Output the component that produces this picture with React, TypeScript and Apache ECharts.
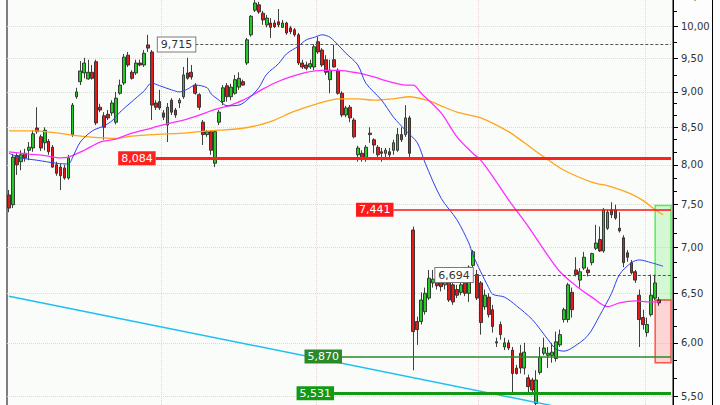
import React, { useEffect, useRef } from 'react';
import * as echarts from 'echarts';

// [open, close, low, high] per trading day
const candles: [number, number, number, number][] = [
  [7.62, 7.46, 7.41, 7.68], [7.50, 8.10, 7.46, 8.14], [8.12, 8.00, 7.87, 8.15], [8.04, 8.13, 7.93, 8.19],
  [8.15, 8.09, 8.04, 8.21], [8.19, 8.23, 8.06, 8.30], [8.22, 8.41, 8.17, 8.46], [8.49, 8.44, 8.41, 8.78],
  [8.37, 8.22, 8.18, 8.40], [8.29, 8.46, 8.19, 8.50], [8.31, 8.17, 8.13, 8.34], [8.23, 7.97, 7.96, 8.26],
  [8.00, 7.89, 7.86, 8.04], [7.97, 7.86, 7.68, 8.01], [7.96, 7.83, 7.81, 8.00], [7.83, 8.09, 7.81, 8.13],
  [8.40, 8.81, 8.37, 8.84], [8.93, 9.00, 8.90, 9.06], [9.15, 9.31, 9.10, 9.46], [9.28, 9.43, 9.20, 9.51],
  [9.19, 9.29, 9.18, 9.48], [9.29, 9.20, 9.18, 9.40], [9.45, 8.56, 8.53, 9.48], [8.78, 8.74, 8.71, 8.83],
  [8.66, 8.50, 8.33, 8.71], [8.68, 8.63, 8.60, 8.74], [8.70, 8.84, 8.66, 8.88], [8.57, 8.91, 8.54, 9.00],
  [8.98, 9.10, 8.96, 9.18], [9.13, 9.52, 9.10, 9.57], [9.55, 9.40, 9.37, 9.60], [9.29, 9.20, 9.18, 9.32],
  [9.28, 9.43, 9.25, 9.48], [9.43, 9.40, 9.38, 9.48], [9.40, 9.58, 9.37, 9.63], [9.71, 9.66, 9.60, 9.87],
  [9.60, 8.81, 8.60, 9.63], [8.84, 8.78, 8.74, 8.88], [8.86, 8.77, 8.74, 9.03], [8.70, 8.64, 8.60, 8.74],
  [8.53, 8.78, 8.30, 8.84], [8.88, 8.71, 8.67, 8.91], [8.74, 8.67, 8.63, 8.77], [8.84, 8.88, 8.77, 8.91],
  [8.93, 9.25, 8.90, 9.37], [9.28, 9.20, 9.18, 9.51], [9.29, 9.22, 9.18, 9.40], [9.10, 8.98, 8.96, 9.13],
  [8.96, 8.78, 8.74, 8.98], [8.57, 8.40, 8.26, 8.60], [8.40, 8.44, 8.37, 8.46], [8.44, 8.19, 8.13, 8.46],
  [8.02, 8.44, 7.97, 8.46], [8.57, 8.71, 8.53, 8.74], [8.86, 9.06, 8.81, 9.10], [9.09, 8.93, 8.86, 9.13],
  [8.93, 9.07, 8.88, 9.12], [8.98, 9.18, 8.96, 9.25], [9.07, 9.20, 9.03, 9.29], [9.15, 9.10, 9.09, 9.18],
  [9.43, 9.79, 9.40, 9.82], [9.87, 10.17, 9.84, 10.19], [10.27, 10.39, 10.24, 10.44], [10.36, 10.24, 10.21, 10.41],
  [10.22, 10.11, 10.03, 10.26], [10.03, 10.14, 9.99, 10.19], [10.06, 9.99, 9.82, 10.14], [10.06, 10.00, 9.98, 10.11],
  [10.08, 10.03, 9.99, 10.29], [9.99, 10.06, 9.98, 10.11], [10.06, 9.90, 9.87, 10.08], [9.98, 9.92, 9.88, 10.01],
  [9.95, 9.87, 9.84, 9.98], [9.87, 9.43, 9.40, 9.90], [9.43, 9.37, 9.34, 9.48], [9.40, 9.35, 9.32, 9.45],
  [9.37, 9.42, 9.34, 9.48], [9.37, 9.68, 9.32, 9.72], [9.76, 9.60, 9.57, 9.84], [9.63, 9.40, 9.37, 9.66],
  [9.48, 9.29, 9.25, 9.55], [9.18, 9.32, 8.98, 9.48], [9.48, 9.37, 9.36, 9.71], [9.32, 8.98, 8.96, 9.35],
  [8.98, 8.67, 8.64, 9.01], [8.67, 8.77, 8.64, 8.80], [8.78, 8.63, 8.57, 8.81], [8.60, 8.37, 8.35, 8.63],
  [8.13, 8.22, 8.04, 8.25], [8.15, 8.09, 8.04, 8.19], [8.09, 8.23, 8.04, 8.26], [8.42, 8.40, 8.29, 8.50],
  [8.33, 8.26, 8.15, 8.35], [8.23, 8.13, 8.06, 8.26], [8.17, 8.15, 8.04, 8.22], [8.15, 8.19, 8.09, 8.22],
  [8.17, 8.13, 8.06, 8.22], [8.19, 8.29, 8.13, 8.33], [8.19, 8.40, 8.17, 8.49], [8.40, 8.33, 8.30, 8.50],
  [8.40, 8.63, 8.37, 8.81], [8.63, 8.15, 8.10, 8.66], [7.20, 6.11, 5.74, 7.24], [6.21, 6.13, 5.98, 6.26],
  [6.21, 6.43, 6.18, 6.51], [6.31, 6.50, 6.28, 6.56], [6.45, 6.66, 6.43, 6.75], [6.61, 6.65, 6.56, 6.75],
  [6.64, 6.58, 6.54, 6.73], [6.63, 6.57, 6.52, 6.70], [6.59, 6.64, 6.54, 6.72], [6.64, 6.43, 6.41, 6.70],
  [6.59, 6.41, 6.38, 6.67], [6.54, 6.48, 6.45, 6.59], [6.51, 6.59, 6.48, 6.64], [6.64, 6.50, 6.47, 6.70],
  [6.50, 6.78, 6.41, 6.80], [6.80, 6.95, 6.77, 6.97], [6.70, 6.45, 6.43, 6.75], [6.61, 6.20, 6.08, 6.63],
  [6.36, 6.48, 6.33, 6.54], [6.46, 6.28, 6.25, 6.50], [6.33, 6.16, 6.10, 6.38], [6.01, 6.00, 5.96, 6.05],
  [6.18, 6.08, 6.03, 6.21], [5.96, 6.00, 5.93, 6.05], [6.00, 5.95, 5.93, 6.03], [5.93, 5.71, 5.54, 5.96],
  [5.76, 5.71, 5.70, 5.79], [5.90, 5.76, 5.71, 5.98], [5.76, 5.91, 5.70, 6.00], [5.67, 5.59, 5.54, 5.70],
  [5.65, 5.56, 5.53, 5.67], [5.44, 5.65, 5.40, 5.74], [5.72, 5.86, 5.70, 5.96], [5.90, 5.95, 5.88, 6.05],
  [5.88, 5.90, 5.76, 5.96], [5.88, 5.91, 5.81, 6.00], [5.85, 6.01, 5.82, 6.11], [5.98, 6.08, 5.96, 6.13],
  [6.23, 6.33, 6.20, 6.35], [6.23, 6.59, 6.20, 6.61], [6.51, 6.33, 6.25, 6.56], [6.75, 6.70, 6.68, 6.89],
  [6.64, 6.73, 6.56, 6.77], [6.77, 6.89, 6.75, 6.95], [6.75, 6.72, 6.68, 6.78], [6.83, 6.93, 6.80, 6.94],
  [6.99, 7.05, 6.97, 7.26], [7.09, 6.96, 6.95, 7.24], [6.96, 7.44, 6.94, 7.46], [7.22, 7.41, 7.20, 7.44],
  [7.44, 7.38, 7.34, 7.53], [7.44, 7.34, 7.32, 7.50], [7.22, 7.19, 7.17, 7.41], [7.11, 6.83, 6.78, 7.14],
  [6.94, 6.89, 6.84, 6.97], [6.83, 6.72, 6.70, 6.86], [6.73, 6.64, 6.61, 6.75], [6.48, 6.23, 5.96, 6.54],
  [6.25, 6.18, 6.13, 6.33], [6.10, 6.18, 6.06, 6.25], [6.28, 6.48, 6.26, 6.70], [6.45, 6.61, 6.43, 6.70],
  [6.43, 6.40, 6.37, 6.46],
];

const TOTAL_SLOTS = 168;
const dayLabels = Array.from({ length: TOTAL_SLOTS }, (_, i) => String(i + 1));
const periodStarts = [39, 78, 119, 161];

// [day index, price]
const blueMA: [number, number][] = [
  [0, 8.15], [3, 8.09], [7, 8.06], [12, 8.02], [15, 8.01], [16, 8.09], [18, 8.30], [21, 8.45], [24, 8.52],
  [26, 8.59], [28, 8.71], [31, 8.86], [34, 9.01], [36, 9.13], [38, 9.09], [41, 9.03], [43, 9.00], [45, 9.04],
  [47, 9.10], [50, 9.06], [51, 8.97], [53, 8.88], [55, 8.80], [58, 8.81], [60, 8.88], [63, 9.06], [65, 9.26],
  [68, 9.42], [70, 9.57], [73, 9.69], [75, 9.79], [77, 9.83], [79, 9.87], [81, 9.83], [83, 9.71], [85, 9.58],
  [88, 9.40], [90, 9.13], [94, 8.88], [97, 8.64], [100, 8.46], [103, 8.29], [105, 8.02], [109, 7.58],
  [113, 7.32], [116, 7.05], [117, 6.92], [119, 6.73], [121, 6.56], [122, 6.49], [125, 6.46], [128, 6.37],
  [132, 6.23], [136, 6.03], [138, 5.94], [140, 5.92], [142, 5.95], [146, 6.07], [149, 6.27], [152, 6.50],
  [154, 6.70], [157, 6.83], [159, 6.86], [162, 6.83], [165, 6.79],
];
const magentaMA: [number, number][] = [
  [0, 8.17], [5, 8.14], [9, 8.12], [13, 8.09], [15, 8.10], [19, 8.19], [23, 8.30], [27, 8.34], [31, 8.42],
  [36, 8.49], [40, 8.55], [44, 8.60], [48, 8.67], [52, 8.75], [56, 8.81], [59, 8.88], [61, 8.94], [64, 9.04],
  [67, 9.13], [71, 9.22], [75, 9.29], [79, 9.32], [83, 9.32], [88, 9.28], [92, 9.22], [96, 9.15], [100, 9.10],
  [102, 9.10], [104, 8.98], [109, 8.70], [113, 8.37], [117, 8.15], [119, 8.06], [123, 7.78], [126, 7.56],
  [131, 7.24], [135, 6.97], [139, 6.73], [143, 6.58], [147, 6.46], [151, 6.36], [154, 6.40], [158, 6.42],
  [161, 6.41], [164, 6.41],
];
const orangeMA: [number, number][] = [
  [0, 8.45], [6, 8.45], [11, 8.43], [15, 8.40], [20, 8.37], [27, 8.35], [31, 8.38], [36, 8.40], [40, 8.41],
  [44, 8.42], [48, 8.44], [53, 8.46], [58, 8.48], [63, 8.53], [67, 8.60], [71, 8.70], [75, 8.78], [79, 8.85],
  [83, 8.90], [88, 8.90], [92, 8.88], [97, 8.90], [101, 8.93], [106, 8.87], [109, 8.80], [113, 8.71],
  [119, 8.63], [126, 8.44], [130, 8.29], [135, 8.10], [140, 7.93], [147, 7.78], [152, 7.72], [157, 7.63],
  [160, 7.55], [163, 7.44], [165, 7.38],
];
const trendLine: [number, number][] = [[0, 6.47], [150, 5.33]];

const levelValues = [9.715, 8.084, 7.441, 6.694, 5.87, 5.531];
const levelLabels = ['9,715', '8,084', '7,441', '6,694', '5,870', '5,531'];
const levelStartDay = [47, 37, 97, 117, 84, 82];

const targetBox = { top: 7.49, mid: 6.43, bottom: 5.81 };

const majorTicks = [5.5, 6, 6.5, 7, 7.5, 8, 8.5, 9, 9.5, 10, 10.5];
const minorTicks = [5.667, 5.833, 6.167, 6.333, 6.667, 6.833, 7.167, 7.333, 7.667, 7.833, 8.167, 8.333,
  8.667, 8.833, 9.25, 9.75, 10.25];

const LOG = (p: number) => Math.log10(p);
const Y_MIN = 0.720491;
const Y_MAX = 1.032772;
const FONT = 'DejaVu Sans';
const OVERHANG = 20;

const levelStyles: any[] = [
  { line: { color: '#555', width: 1, type: [3, 2] }, label: { backgroundColor: '#ffffff', borderColor: '#7a7a7a', borderWidth: 1, color: '#333' } },
  { line: { color: '#ff2020', width: 3, type: 'solid' }, label: { backgroundColor: '#ff2020', color: '#fff' } },
  { line: { color: '#ff1010', width: 1.5, type: 'solid' }, label: { backgroundColor: '#ff1a1a', color: '#fff' } },
  { line: { color: '#555', width: 1, type: [3, 2] }, label: { backgroundColor: '#ffffff', borderColor: '#7a7a7a', borderWidth: 1, color: '#333' } },
  { line: { color: '#2a8a2a', width: 1.5, type: 'solid' }, label: { backgroundColor: '#2a8a2a', color: '#fff' } },
  { line: { color: '#139a13', width: 3, type: 'solid' }, label: { backgroundColor: '#139a13', color: '#fff' } },
];

export default function App() {
  const ref = useRef<HTMLDivElement>(null);
  useEffect(() => {
    if (!ref.current) return;
    const chart = echarts.init(ref.current, undefined, { renderer: 'svg' });
    const fmt = (v: number) => Math.pow(10, v).toFixed(2).replace('.', ',');
    const option: any = {
      animation: false,
      backgroundColor: '#fcfdfc',
      grid: {
        left: 7, right: 47, top: 0, bottom: 0, show: true,
        backgroundColor: '#fafcfa', borderColor: '#000', borderWidth: 1,
      },
      xAxis: {
        type: 'category', data: dayLabels, boundaryGap: true,
        axisLine: { show: false }, axisTick: { show: false }, axisLabel: { show: false },
        splitLine: {
          show: true,
          interval: (i: number) => periodStarts.includes(i),
          lineStyle: { color: '#e6d4d4', type: 'dotted', width: 1 },
        },
      },
      yAxis: [
        {
          type: 'value', position: 'right', min: Y_MIN, max: Y_MAX,
          axisLine: { show: true, lineStyle: { color: '#000', width: 1 } },
          axisTick: { show: true, customValues: majorTicks.map(LOG), length: 5, lineStyle: { color: '#000' } },
          axisLabel: {
            customValues: majorTicks.map(LOG), formatter: fmt, color: '#333',
            fontSize: 10, fontFamily: FONT, margin: 8,
          },
          splitLine: { show: true, lineStyle: { color: '#e6d4d4', type: 'dotted', width: 1 } },
        },
        {
          type: 'value', position: 'right', min: Y_MIN, max: Y_MAX,
          axisLine: { show: false },
          axisTick: { show: true, customValues: minorTicks.map(LOG), length: 4, lineStyle: { color: '#000' } },
          axisLabel: { show: false },
          splitLine: { show: false },
        },
      ],
      series: [
        {
          type: 'candlestick',
          data: candles.map(([o, c, l, h]) => [LOG(o), LOG(c), LOG(l), LOG(h)]),
          barWidth: 3.2,
          z: 2,
          itemStyle: {
            color: '#22cc22', color0: '#e41a1a',
            borderColor: '#2a2a2a', borderColor0: '#2a2a2a', borderWidth: 0.9,
          },
          markArea: {
            silent: true,
            data: [
              [
                { coord: [163, LOG(targetBox.top)], itemStyle: { color: 'rgba(140,240,140,0.35)', borderColor: '#5aea5a', borderWidth: 1.5 } },
                { coord: [167, LOG(targetBox.mid)] },
              ],
              [
                { coord: [163, LOG(targetBox.mid)], itemStyle: { color: 'rgba(255,140,140,0.35)', borderColor: '#ff5050', borderWidth: 1.5 } },
                { coord: [167, LOG(targetBox.bottom)] },
              ],
            ],
          },
        },
        {
          type: 'line', data: trendLine.map(([i, p]) => [i, LOG(p)]), symbol: 'none', z: 3,
          lineStyle: { color: '#1cc0f0', width: 1.5 },
        },
        {
          type: 'line', data: orangeMA.map(([i, p]) => [i, LOG(p)]), symbol: 'none', smooth: 0.3, z: 4,
          lineStyle: { color: '#ffa41c', width: 1.3 },
        },
        {
          type: 'line', data: magentaMA.map(([i, p]) => [i, LOG(p)]), symbol: 'none', smooth: 0.3, z: 4,
          lineStyle: { color: '#ff2eff', width: 1.3 },
        },
        {
          type: 'line', data: blueMA.map(([i, p]) => [i, LOG(p)]), symbol: 'none', smooth: 0.3, z: 4,
          lineStyle: { color: '#2f40f0', width: 1 },
        },
        {
          type: 'line', data: [], z: 5,
          markLine: {
            silent: true, symbol: ['none', 'none'],
            data: levelValues.map((v, k) => [
              {
                coord: [levelStartDay[k], LOG(v)],
                lineStyle: levelStyles[k].line,
                label: {
                  show: true, position: 'start', formatter: levelLabels[k], distance: 0,
                  fontSize: 11, fontFamily: FONT, padding: [2, 3, 1, 3],
                  ...levelStyles[k].label,
                },
              },
              { coord: [167, LOG(v)] },
            ]),
          },
        },
      ],
      graphic: [
        { type: 'line', shape: { x1: 712.5, y1: 0, x2: 712.5, y2: 405 + 2 * OVERHANG }, style: { stroke: '#000', lineWidth: 1 } },
      ],
    };
    chart.setOption(option);
    return () => chart.dispose();
  }, []);
  return (
    <div
      ref={ref}
      style={{ position: 'fixed', left: 0, top: -OVERHANG, width: 720, height: 405 + 2 * OVERHANG }}
    />
  );
}
